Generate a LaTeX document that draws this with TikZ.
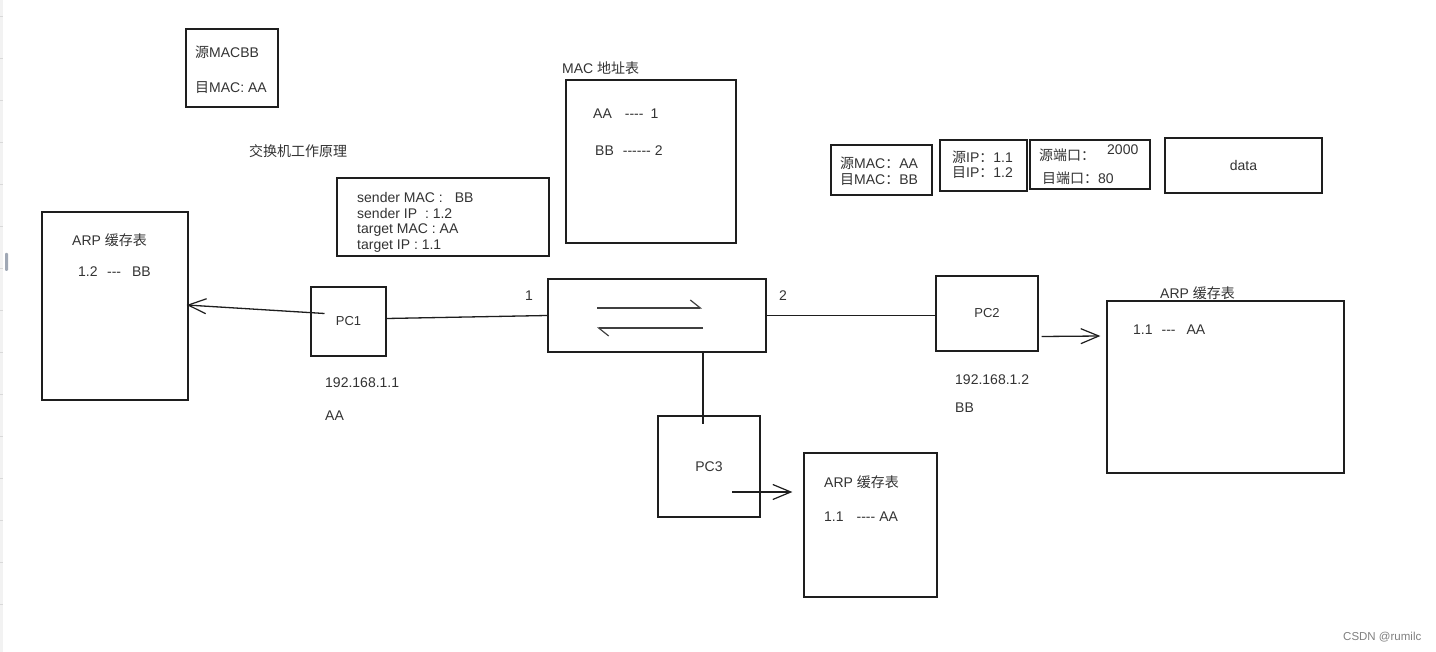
\documentclass[tikz,border=0pt]{standalone}
\usepackage{fontspec}
\setmainfont{Liberation Sans}
\newfontfamily\cjk{Noto Sans CJK SC}
\usetikzlibrary{arrows.meta,calc}
\definecolor{ink}{HTML}{1E1E1E}
\definecolor{txt}{HTML}{333333}
\definecolor{handle}{HTML}{A0A8B5}
\newcommand\hh{-\kern0pt}
\begin{document}
\begin{tikzpicture}[x=1pt,y=-1pt,
  box/.style={draw=ink, line width=1.3pt, inner sep=0pt},
  lbl/.style={anchor=west, inner sep=0pt, text=txt, font=\fontsize{14}{17}\selectfont},
  pcl/.style={inner sep=0pt, text=txt, font=\fontsize{13}{15}\selectfont},
  conn/.style={draw=ink, line width=1.3pt},
  arr/.style={conn, -{Straight Barb[length=18pt,width=15pt,line width=1.2pt]}},
  harp/.style={draw=ink!85, line width=1.5pt, -{Straight Barb[harpoon,length=10pt,width=16pt,line width=1.2pt]}}]
\useasboundingbox (0,0) rectangle (1436,652);
\fill[white] (0,0) rectangle (1436,652);
% editor strip
\fill[black!5] (0,0) rectangle (3,652);
\foreach \yy in {16,58,...,640} \draw[black!15, line width=0.6pt] (0,\yy) -- (3,\yy);
\fill[handle, rounded corners=1pt] (5,253) rectangle (8,271);

% boxes
\node[box, minimum width=92pt, minimum height=78pt] (tl) at (232,68) {};
\node[box, minimum width=212pt, minimum height=78pt] (snd) at (443,217) {};
\node[box, minimum width=170pt, minimum height=163pt] (mact) at (651,161.5) {};
\node[box, minimum width=101pt, minimum height=50pt] (h1) at (881.5,170) {};
\node[box, minimum width=87pt, minimum height=51pt] (h2) at (983.5,165.5) {};
\node[box, minimum width=120pt, minimum height=49pt] (h3) at (1090,164.5) {};
\node[box, minimum width=157pt, minimum height=55pt] (h4) at (1243.5,165.5) {};
\node[box, minimum width=146pt, minimum height=188pt] (arpL) at (115,306) {};
\node[box, minimum width=75pt, minimum height=69pt] (pc1) at (348.5,321.5) {};
\node[box, minimum width=218pt, minimum height=73pt] (sw) at (657,315.5) {};
\node[box, minimum width=102pt, minimum height=75pt] (pc2) at (987,313.5) {};
\node[box, minimum width=237pt, minimum height=172pt] (arpR) at (1225.5,387) {};
\node[box, minimum width=102pt, minimum height=101pt] (pc3) at (709,466.5) {};
\node[box, minimum width=133pt, minimum height=144pt] (arp3) at (870.5,525) {};

% texts
\node[lbl] (tla) at (195,52) {{\cjk 源}MACBB};
\node[lbl] (tlb) at (195,88) {{\cjk 目}MAC: AA};
\node[lbl] (title) at (249,151) {\cjk 交换机工作原理};
\node[lbl] (s1) at (357,197) {sender MAC :\hspace{12pt}BB};
\node[lbl] (s2) at (357,213) {sender IP\hspace{4pt} : 1.2};
\node[lbl] (s3) at (357,230) {target MAC : AA};
\node[lbl] (s4) at (357,246) {target IP : 1.1};
\node[lbl] (mtitle) at (562,68) {MAC {\cjk 地址表}};
\node[lbl] (m1) at (593,114) {AA\hspace{13pt}\hh\hh\hh\hh\hspace{7pt}1};
\node[lbl] (m2) at (595,151) {BB\hspace{9pt}\hh\hh\hh\hh\hh\hh\hspace{4pt}2};
\node[lbl] (h1a) at (840,163) {{\cjk 源}MAC{\cjk ：}AA};
\node[lbl] (h1b) at (840,180) {{\cjk 目}MAC{\cjk ：}BB};
\node[lbl] (h2a) at (952,157) {{\cjk 源}IP{\cjk ：}1.1};
\node[lbl] (h2b) at (952,173) {{\cjk 目}IP{\cjk ：}1.2};
\node[lbl] (h3a) at (1039,155) {\cjk 源端口：};
\node[lbl] (h3n) at (1107,150) {2000};
\node[lbl] (h3b) at (1042,178) {{\cjk 目端口：}80};
\node[lbl, anchor=center] (dat) at (h4.center) {data};
\node[lbl] (aLt) at (72,240) {ARP {\cjk 缓存表}};
\node[lbl] (aLe) at (78,272) {1.2\hspace{9.5pt}\hh\hh\hh\hspace{11pt}BB};
\node[pcl] (pc1l) at (pc1.center) {PC1};
\node[pcl] (pc2l) at (pc2.center) {PC2};
\node[lbl, anchor=center] (pc3l) at (pc3.center) {PC3};
\node[lbl] (ip1) at (325,383) {192.168.1.1};
\node[lbl] (mac1) at (325,416) {AA};
\node[lbl] (p1) at (525,296) {1};
\node[lbl] (p2) at (779,296) {2};
\node[lbl] (ip2) at (955,380) {192.168.1.2};
\node[lbl] (mac2) at (955,408) {BB};
\node[lbl] (aRt) at (1160,293) {ARP {\cjk 缓存表}};
\node[lbl] (aRe) at (1133,330) {1.1\hspace{9pt}\hh\hh\hh\hspace{11pt}AA};
\node[lbl] (a3t) at (824,482) {ARP {\cjk 缓存表}};
\node[lbl] (a3e) at (824,517) {1.1\hspace{13pt}\hh\hh\hh\hh\hspace{4pt}AA};
\node[anchor=west, inner sep=0pt, text=black!50, font=\fontsize{11.5}{13}\selectfont] (wm) at (1343,637) {CSDN @rumilc};

% switch symbol
\coordinate (u1) at ($(sw.center)+(-60,-7.5)$);
\coordinate (u2) at ($(sw.center)+(45,-7.5)$);
\coordinate (l1) at ($(sw.center)+(46,12.5)$);
\coordinate (l2) at ($(sw.center)+(-60,12.5)$);
\draw[harp] (u1) -- (u2);
\draw[harp] (l1) -- (l2);

% connectors
\draw[conn] ($(pc1.east)+(0,-3)$) -- (sw.west);
\draw[conn] (sw.east) -- ($(pc2.west)+(0,2)$);
\draw[conn] ($(sw.south)+(46,0)$) -- ($(pc3.north)+(-6,9)$);
\coordinate (a1s) at ($(pc1.center)+(-24,-8)$);
\draw[arr] (a1s) -- ($(arpL.east)+(-2,-1)$);
\coordinate (a2s) at ($(pc2.east)+(3,23)$);
\draw[arr] (a2s) -- ($(arpR.west)+(-6,-51)$);
\coordinate (a3s) at ($(pc3.center)+(23,25.5)$);
\draw[arr] (a3s) -- ($(arp3.west)+(-11,-33)$);
\end{tikzpicture}
\end{document}
